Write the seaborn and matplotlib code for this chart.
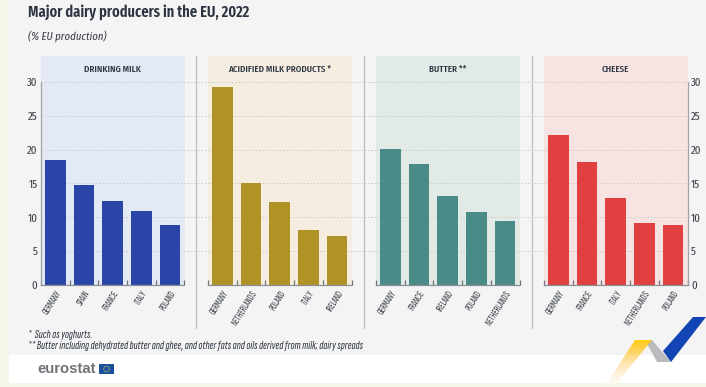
#!/usr/bin/env python3
import matplotlib.pyplot as plt
import numpy as np
import pandas as pd
import seaborn as sns
from matplotlib.patches import Circle, Polygon, Rectangle

sns.set_theme(style='white')
FALLBACK = ['Liberation Sans Narrow', 'Liberation Sans', 'DejaVu Sans']
NARROW = ['Fira Sans Extra Condensed'] + FALLBACK
TIGHT = ['Sofia Sans Extra Condensed', 'Fira Sans Extra Condensed'] + FALLBACK
plt.rcParams['font.family'] = NARROW

W, H = 706, 387
INK = '#2b3440'
GREY_TEXT = '#3a3f48'

titles = ['DRINKING MILK', 'ACIDIFIED MILK PRODUCTS *', 'BUTTER **', 'CHEESE']
countries = [
    ['GERMANY', 'SPAIN', 'FRANCE', 'ITALY', 'POLAND'],
    ['GERMANY', 'NETHERLANDS', 'POLAND', 'ITALY', 'IRELAND'],
    ['GERMANY', 'FRANCE', 'IRELAND', 'POLAND', 'NETHERLANDS'],
    ['GERMANY', 'FRANCE', 'ITALY', 'NETHERLANDS', 'POLAND'],
]
values = [
    [18.4, 14.8, 12.4, 11.0, 8.8],
    [29.2, 15.1, 12.2, 8.1, 7.3],
    [20.1, 17.9, 13.1, 10.8, 9.4],
    [22.2, 18.1, 12.9, 9.2, 8.8],
]
bar_colors = ['#2a45a8', '#b19226', '#4a8a87', '#e04040']
panel_colors = ['#e3eaf6', '#f5eee0', '#e2eae8', '#f8e3e3']
panel_left = [41, 208, 376, 544]
panel_width = 143.5
y_ticks = [0, 5, 10, 15, 20, 25, 30]


def px_axes(fig, x0, y0, x1, y1, **kw):
    # axes from pixel box, y counted from the top of the picture
    return fig.add_axes([x0 / W, 1 - y1 / H, (x1 - x0) / W, (y1 - y0) / H], **kw)


fig = plt.figure(figsize=(W / 100, H / 100), dpi=100, facecolor='#f4f8e8')

# page furniture, in pixel coordinates
page = fig.add_axes([0, 0, 1, 1], zorder=0)
page.set_xlim(0, W)
page.set_ylim(H, 0)
page.axis('off')
page.add_patch(Rectangle((9, 0), W - 9, 355, color='#f4f4f4', lw=0))
page.add_patch(Rectangle((9, 355), W - 9, 28, color='white', lw=0))
for left, col in zip(panel_left, panel_colors):
    page.add_patch(Rectangle((left, 56), panel_width, 229, color=col, lw=0))
for x in [196, 363.7, 531.7]:
    page.plot([x, x], [56, 328], color='#bdbdbd', lw=0.9)

# dotted grid runs through the gaps between the panels
grid = px_axes(fig, 41, 56, 687.5, 285, zorder=1)
grid.set_ylim(0, 229 / 6.77)
grid.patch.set_alpha(0)
grid.set_xticks([])
grid.set_yticks(y_ticks[1:])
grid.tick_params(left=False, labelleft=False)
grid.grid(axis='y', color='#c9c9c9', lw=0.7, ls=(0, (1.5, 2)))
sns.despine(ax=grid, left=True, bottom=True)

for i in range(4):
    ax = px_axes(fig, panel_left[i], 56, panel_left[i] + panel_width, 285, zorder=2)
    ax.patch.set_alpha(0)
    df = pd.DataFrame({'country': countries[i], 'share': values[i]})
    sns.barplot(data=df, x='country', y='share', color=bar_colors[i], width=0.72,
                saturation=1, linewidth=0, ax=ax)
    ax.set_xlim(-0.5, 4.5)
    ax.set_ylim(0, 229 / 6.77)
    ax.set_xlabel('')
    ax.set_ylabel('')
    ax.set_xticks(np.arange(5))
    ax.set_xticklabels(countries[i], rotation=58, ha='right', rotation_mode='anchor',
                       fontsize=7.1, color=GREY_TEXT, family=TIGHT)
    ax.set_xticks(np.arange(-0.5, 5), minor=True)
    ax.tick_params(axis='x', which='major', length=0, pad=3)
    ax.tick_params(axis='x', which='minor', length=3.5, width=0.9, color='#6f747a',
                   direction='in', bottom=True)
    sns.despine(ax=ax, left=True, top=True, right=True)
    ax.spines['bottom'].set_color('#8a8f96')
    ax.spines['bottom'].set_linewidth(0.9)
    ax.set_yticks(y_ticks)
    ax.tick_params(axis='y', left=False, labelleft=False, length=0)
    if i == 0 or i == 3:
        side = 'left' if i == 0 else 'right'
        ax.spines[side].set_visible(True)
        ax.spines[side].set_color('#a0a4aa')
        ax.spines[side].set_linewidth(0.9)
        ax.spines[side].set_bounds(0, 30)
    if i == 0:
        ax.tick_params(axis='y', labelleft=True, left=False, length=0, pad=2.5, labelsize=8.4,
                       labelcolor=GREY_TEXT)
    if i == 3:
        ax.tick_params(axis='y', labelright=True, right=False, length=0, pad=2.5, labelsize=8.4,
                       labelcolor=GREY_TEXT)
    ax.text(0.5, 1 - 13 / 229, titles[i], transform=ax.transAxes, ha='center', va='center',
            fontsize=7, fontweight='medium', color=INK)

# text and logo on top
top = fig.add_axes([0, 0, 1, 1], zorder=3)
top.set_xlim(0, W)
top.set_ylim(H, 0)
top.axis('off')
top.patch.set_alpha(0)
top.text(28, 13, 'Major dairy producers in the EU, 2022', fontsize=11.3, fontweight='semibold',
         color=INK, va='center')
top.text(28, 36.5, '(% EU production)', fontsize=8.4, style='italic', color=GREY_TEXT, va='center')
top.text(28, 335, '*  Such as yoghurts.', fontsize=8.7, style='italic', color=INK, va='center',
         family=TIGHT)
top.text(28, 346, '** Butter including dehydrated butter and ghee, and other fats and oils '
         'derived from milk; dairy spreads', fontsize=8.7, style='italic', color=INK, va='center',
         family=TIGHT)
top.text(37, 369, 'eurostat', family='Liberation Sans', fontsize=10.7, fontweight='bold',
         color='#6f7277', va='center')
top.add_patch(Rectangle((99, 364), 15, 10, color='#1c4f9c', lw=0))
top.add_patch(Circle((106.5, 369), 2.8, fc='none', ec='#8fa36a', lw=0.6))

# ribbon, yellow fades out towards the bottom
yellow = Polygon([(635, 340), (652, 340), (617, 383), (607, 383)], closed=True,
                 transform=top.transData, fc='none', ec='none')
top.add_patch(yellow)
ramp = np.linspace(0, 1, 64)[:, None]
rgba = np.ones((64, 1, 4))
rgba[..., 1] = 0.8
rgba[..., 2] = 0.05 + 0.6 * ramp
rgba[..., 3] = 1 - 0.9 * ramp
im = top.imshow(rgba, extent=(605, 655, 383, 340), aspect='auto', zorder=4)
im.set_clip_path(yellow)
top.set_xlim(0, W)
top.set_ylim(H, 0)
top.add_patch(Polygon([(645, 340), (652, 340), (671, 362), (657, 362)], color='#b9bbbe', lw=0))
top.add_patch(Polygon([(693, 317), (706, 317), (671, 362), (663, 351)], color='#1344b4', lw=0))

fig.savefig('out.png', dpi=100)
